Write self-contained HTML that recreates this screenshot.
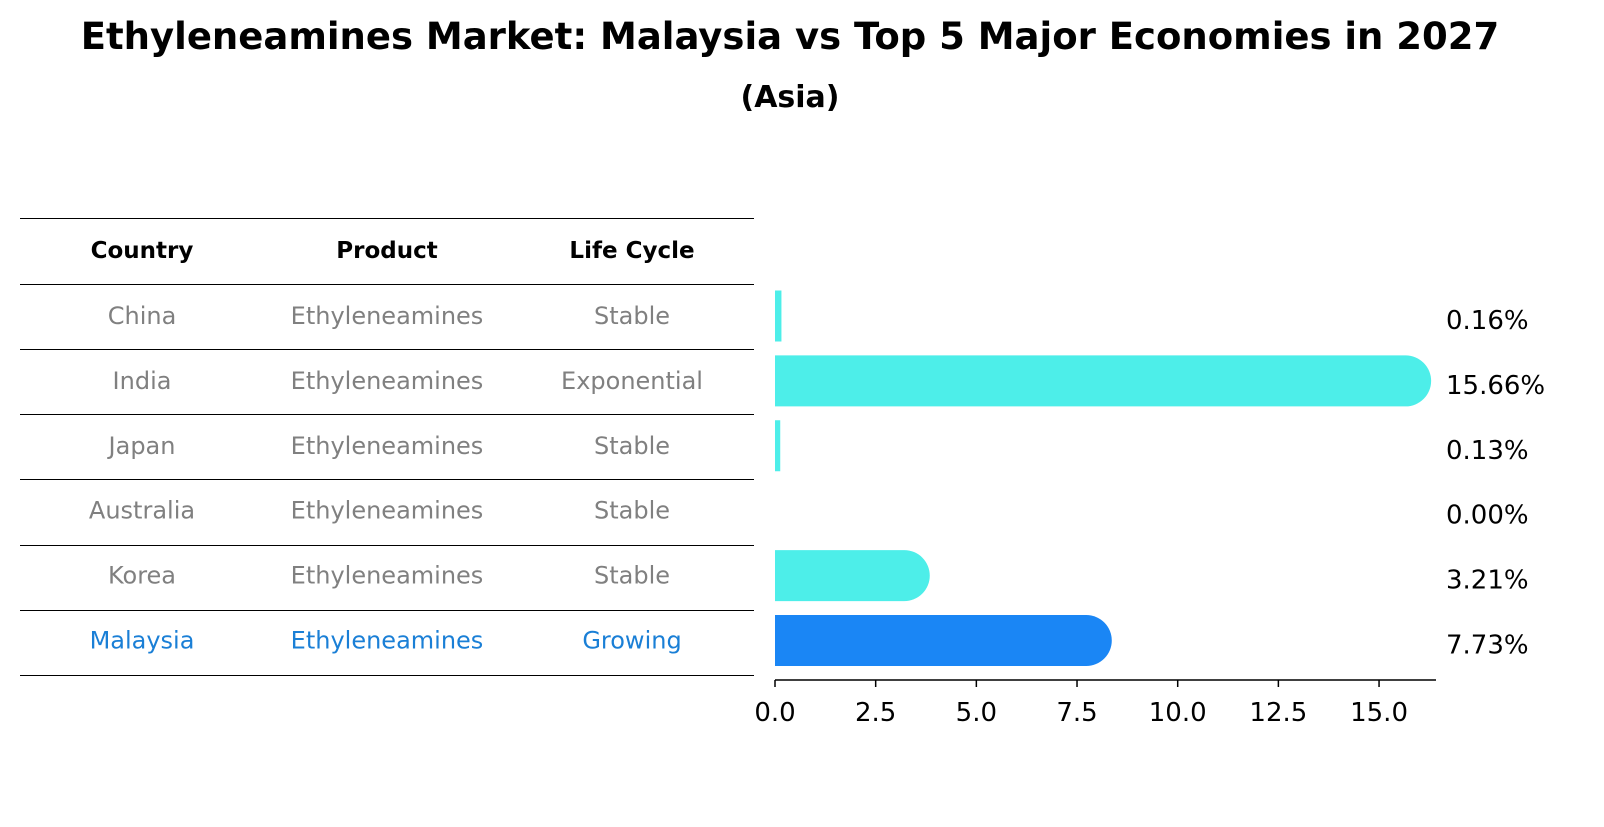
<!DOCTYPE html>
<html><head><meta charset="utf-8"><style>
body{margin:0;background:#fff;font-family:"DejaVu Sans","Liberation Sans",sans-serif}
</style></head><body>
<svg width="1604" height="823" viewBox="0 0 1604 823" xmlns="http://www.w3.org/2000/svg" font-family="DejaVu Sans, Liberation Sans, sans-serif">
<text x="790" y="49" text-anchor="middle" font-size="37" font-weight="bold">Ethyleneamines Market: Malaysia vs Top 5 Major Economies in 2027</text>
<text x="790" y="107" text-anchor="middle" font-size="30" font-weight="bold">(Asia)</text>
<g id="table"></g>
<g id="bars"></g>
</svg>
<script>
const countries=["China","India","Japan","Australia","Korea","Malaysia"];
const products=["Ethyleneamines","Ethyleneamines","Ethyleneamines","Ethyleneamines","Ethyleneamines","Ethyleneamines"];
const lifeCycles=["Stable","Exponential","Stable","Stable","Stable","Growing"];
const values=[0.16,15.66,0.13,0.00,3.21,7.73];
const ticks=[0,2.5,5,7.5,10,12.5,15];
const NS="http://www.w3.org/2000/svg";
function mk(t,a,p){const e=document.createElementNS(NS,t);for(const k in a)e.setAttribute(k,a[k]);p.appendChild(e);return e;}
const x0=775,sc=40.27;
const xs=v=>x0+v*sc;
const rowY=i=>316+i*64.9;
const tbl=document.getElementById('table');
const lineYs=[218,284,349,414,479,545,610,675];
lineYs.forEach((y,i)=>{const l=mk('line',{x1:20,x2:754,y1:y+0.5,y2:y+0.5,stroke:'#000','stroke-width':1},tbl);

});
const colX=[142,387,632];
["Country","Product","Life Cycle"].forEach((h,j)=>{const t=mk('text',{x:colX[j],y:258,'text-anchor':'middle','font-size':23,'font-weight':'bold'},tbl);t.textContent=h;

});
countries.forEach((c,i)=>{const col=c==="Malaysia"?"#1a7fd6":"#808080";
[c,products[i],lifeCycles[i]].forEach((s,j)=>{const t=mk('text',{x:colX[j],y:rowY(i)+8,'text-anchor':'middle','font-size':24,fill:col},tbl);t.textContent=s;

});});
const bg=document.getElementById('bars');
const h=51;
values.forEach((v,i)=>{const w=xs(v)-x0;if(w<=0)return;const top=rowY(i)-h/2;const col=countries[i]==="Malaysia"?"#1a86f5":"#4deee9";
const p=mk('path',{fill:col},bg);
if(w>=h/2){const r=h/2;p.setAttribute('d',`M${x0},${top}H${x0+w}A${r},${r} 0 0 1 ${x0+w},${top+h}H${x0}Z`);}
else{p.setAttribute('d',`M${x0},${top}H${x0+w}V${top+h}H${x0}Z`);}

});
values.forEach((v,i)=>{const t=mk('text',{x:1446,y:rowY(i)+13,'font-size':26},bg);t.textContent=v.toFixed(2)+'%';

});
const ax=mk('line',{x1:x0,x2:1436,y1:680,y2:680,stroke:'#000','stroke-width':1.5},bg);


ticks.forEach(tv=>{const tk=mk('line',{x1:xs(tv),x2:xs(tv),y1:680,y2:687,stroke:'#000','stroke-width':1.5},bg);


const t=mk('text',{x:xs(tv),y:721,'text-anchor':'middle','font-size':26},bg);t.textContent=tv.toFixed(1);

});
</script>
</body></html>
